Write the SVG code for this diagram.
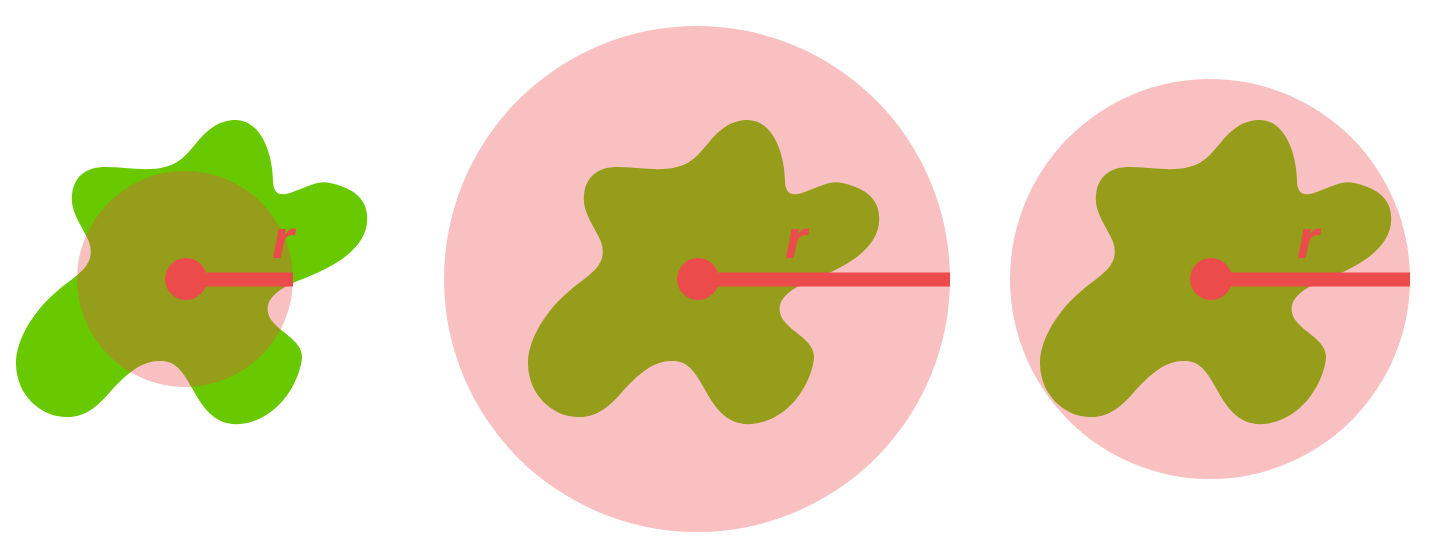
<svg xmlns="http://www.w3.org/2000/svg" xmlns:xlink="http://www.w3.org/1999/xlink" width="1432" height="556" viewBox="0 0 1432 556">
  <style>
    .blob { fill: #69c900; }
    .halo { fill: #eb4a4a; fill-opacity: 0.35; }
    .radius { stroke: #eb4c4b; stroke-width: 14; fill: none; }
    .dot { fill: #eb4c4b; }
    .lbl { fill: #eb4c4b; font-family: "Liberation Sans", Arial, sans-serif; font-weight: bold; font-style: italic; font-size: 56px; }
  </style>
  <defs>
    <path id="shape" d="M 233 120 C 258 118 272 148 273 180 C 273 192 278 197 290 193 C 305 188 318 180 330 183 C 350 187 366 197 367 215 C 370 245 340 265 300 280 C 275 290 262 302 270 318 C 278 332 303 340 302 358 C 300 380 280 420 240 424 C 215 426 203 408 192 388 C 182 370 175 360 158 361 C 138 362 123 378 110 392 C 98 406 85 418 65 417 C 40 416 17 395 16 365 C 15 340 35 310 55 293 C 75 275 95 268 90 245 C 86 230 70 215 72 195 C 74 175 88 167 105 167 C 130 167 160 175 180 160 C 195 150 205 122 233 120 Z"/>
  </defs>
  <rect width="1432" height="556" fill="#ffffff"/>
  <g id="fig1">
    <use xlink:href="#shape" class="blob"/>
    <circle class="halo" cx="185" cy="279" r="108"/>
    <line class="radius" x1="186" y1="279.5" x2="293" y2="279.5"/>
    <circle class="dot" cx="186" cy="279" r="21"/>
    <text class="lbl" x="272" y="258">r</text>
  </g>
  <g id="fig2">
    <use xlink:href="#shape" class="blob" transform="translate(512,0)"/>
    <circle class="halo" cx="697" cy="279" r="253"/>
    <line class="radius" x1="698" y1="279.5" x2="950" y2="279.5"/>
    <circle class="dot" cx="698" cy="279" r="21"/>
    <text class="lbl" x="785" y="258">r</text>
  </g>
  <g id="fig3">
    <use xlink:href="#shape" class="blob" transform="translate(1024,0)"/>
    <circle class="halo" cx="1210" cy="279" r="200"/>
    <line class="radius" x1="1211" y1="279.5" x2="1410" y2="279.5"/>
    <circle class="dot" cx="1211" cy="279" r="21"/>
    <text class="lbl" x="1297" y="258">r</text>
  </g>
</svg>
